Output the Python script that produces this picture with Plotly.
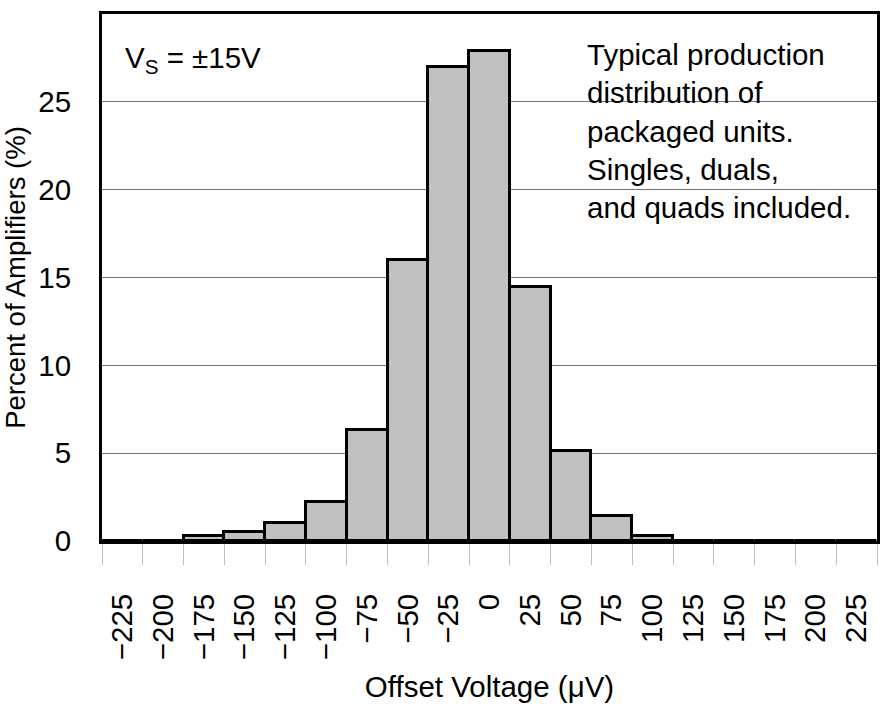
import plotly.graph_objects as go

offset_uv = [-225, -200, -175, -150, -125, -100, -75, -50, -25, 0,
             25, 50, 75, 100, 125, 150, 175, 200, 225]
percent = [0, 0, 0.3, 0.5, 1.0, 2.2, 6.3, 16.0, 27.0, 27.9,
           14.45, 5.1, 1.4, 0.3, 0, 0, 0, 0, 0]
tick_labels = [str(v).replace("-", "\u2212") for v in offset_uv]

FONT = "Liberation Sans, Arial, sans-serif"

fig = go.Figure()
fig.add_trace(go.Bar(
    x=tick_labels, y=percent,
    marker=dict(color="#c0c0c0", line=dict(color="black", width=3)),
    width=1.0,
))

fig.update_layout(
    width=885, height=704,
    margin=dict(l=102, r=5, t=14, b=161),
    paper_bgcolor="white", plot_bgcolor="white",
    font=dict(family=FONT, size=29.5, color="black"),
    showlegend=False, bargap=0,
    xaxis=dict(
        type="category", tickangle=-90,
        tickson="boundaries", ticks="outside", ticklen=21,
        tickcolor="#c0c0c0", tickwidth=1,
        ticklabelstandoff=38,
        tickfont=dict(size=29.5),
        showline=True, linecolor="black", linewidth=3, mirror=True,
        showgrid=False,
        title=dict(text="Offset Voltage (\u03bcV)", standoff=18,
                   font=dict(size=29.5)),
    ),
    yaxis=dict(
        range=[0, 30], dtick=5, ticks="",
        showline=True, linecolor="black", linewidth=3, mirror=True,
        showgrid=True, gridcolor="#707070", gridwidth=1,
        zeroline=False, ticklabelstandoff=22,
        tickfont=dict(size=29.5),
        title=dict(text="Percent of Amplifiers (%)", standoff=8,
                   font=dict(size=27.5)),
    ),
)

fig.add_annotation(
    x=0.027, y=0.953, xref="paper", yref="paper", xanchor="left", yanchor="top",
    text="V<sub>S</sub> = \u00b115V", showarrow=False, align="left",
    font=dict(size=29.5),
)
fig.add_annotation(
    x=0.623, y=0.958, xref="paper", yref="paper", xanchor="left", yanchor="top",
    text="Typical production<br>distribution of<br>packaged units.<br>Singles, duals,<br>and quads included.",
    showarrow=False, align="left",
    font=dict(size=29.5),
)

fig.write_html("out.html")
